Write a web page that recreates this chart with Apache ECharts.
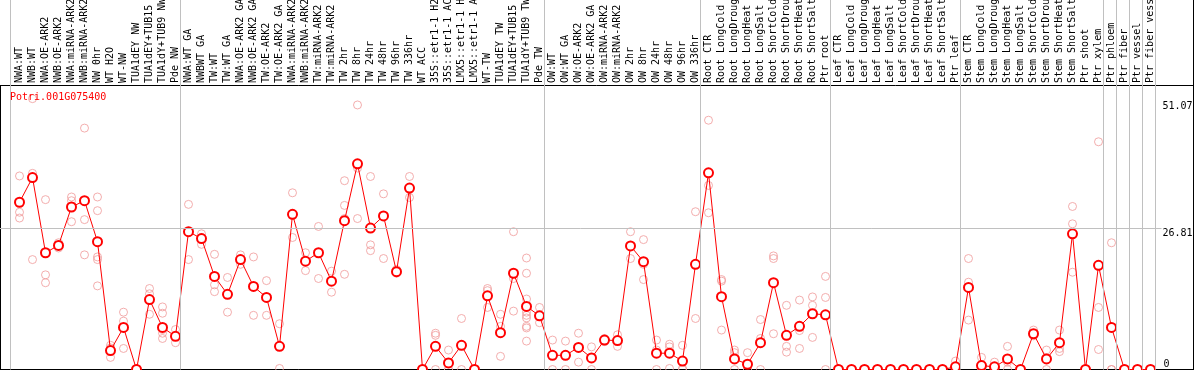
<!DOCTYPE html>
<html>
<head>
<meta charset="utf-8">
<script src="https://cdn.jsdelivr.net/npm/echarts@6/dist/echarts.min.js"></script>
<style>
html,body{margin:0;padding:0;background:#fff;}
#chart{width:1194px;height:370px;}
</style>
</head>
<body>
<div id="chart"></div>
<script>
// ---------------- data ----------------
const geneId = 'Potri.001G075400';

const categories = [
  'NWA:WT','NWB:WT','NWA:OE-ARK2','NWB:OE-ARK2','NWA:miRNA-ARK2','NWB:miRNA-ARK2','NW 0hr','WT H2O','WT-NW',
  'TUA1dEY NW','TUA1dEY+TUB15 NW','TUA1dY+TUB9 NW','Pde NW',
  'NWA:WT GA','NWBWT GA','TW:WT','TW:WT GA','NWA:OE-ARK2 GA','NWB:OE-ARK2 GA','TW:OE-ARK2','TW:OE-ARK2 GA',
  'NWA:miRNA-ARK2 GA','NWB:miRNA-ARK2 GA','TW:miRNA-ARK2','TW:miRNA-ARK2 GA',
  'TW 2hr','TW 8hr','TW 24hr','TW 48hr','TW 96hr','TW 336hr','WT ACC',
  '35S::etr1-1 H2O','35S::etr1-1 ACC','LMX5::etr1-1 H2O','LMX5::etr1-1 ACC',
  'WT-TW','TUA1dEY TW','TUA1dEY+TUB15 TW','TUA1dY+TUB9 TW','Pde TW',
  'OW:WT','OW:WT GA','OW:OE-ARK2','OW:OE-ARK2 GA','OW:miRNA-ARK2','OW:miRNA-ARK2 GA',
  'OW 2hr','OW 8hr','OW 24hr','OW 48hr','OW 96hr','OW 336hr',
  'Root CTR','Root LongCold','Root LongDrought','Root LongHeat','Root LongSalt',
  'Root ShortCold','Root ShortDrought','Root ShortHeat','Root ShortSalt','Ptr root',
  'Leaf CTR','Leaf LongCold','Leaf LongDrought','Leaf LongHeat','Leaf LongSalt',
  'Leaf ShortCold','Leaf ShortDrought','Leaf ShortHeat','Leaf ShortSalt','Ptr leaf',
  'Stem CTR','Stem LongCold','Stem LongDrought','Stem LongHeat','Stem LongSalt',
  'Stem ShortCold','Stem ShortDrought','Stem ShortHeat','Stem ShortSalt','Ptr shoot','Ptr xylem',
  'Ptr phloem','Ptr fiber','Ptr vessel','Ptr fiber vessel'
];

const meanValues = [
  31.8, 36.5, 22.2, 23.6, 30.9, 32.1, 24.3, 3.6, 8.0, 0, 13.3, 8.0, 6.3,
  26.2, 24.9, 17.7, 14.3, 20.9, 15.8, 13.7, 4.4, 29.5, 20.6, 22.2, 16.8,
  28.3, 39.1, 26.9, 29.2, 18.6, 34.5, 0, 4.4, 1.25, 4.6, 0,
  14.0, 7.0, 18.3, 12.0, 10.2,
  2.7, 2.7, 4.2, 2.2, 5.6, 5.5, 23.5, 20.5, 3.1, 3.1, 1.6, 20.0,
  37.4, 13.85, 2.0, 1.0, 5.1, 16.5, 6.5, 8.2, 10.6, 10.4,
  0, 0, 0, 0, 0, 0, 0, 0, 0, 0.5,
  15.6, 0.75, 0.5, 2.0, 0, 6.8, 2.0, 5.1, 25.8, 0, 19.8,
  8.0, 0, 0, 0
];

const replicateValues = [
  [36.8, 29.9, 28.8], [51.5, 37.3, 20.9], [32.3, 18.0, 16.5], [24.1, 23.6, 23.1],
  [32.8, 32.1, 28.1], [45.9, 28.5, 21.8], [32.8, 30.2, 21.4, 20.9, 15.9], [4.6, 4.1, 2.3],
  [10.9, 9.2, 4.0], [0, 0, 0], [15.4, 14.4, 10.5], [11.9, 10.7, 7.6, 6.9, 5.9], [7.6, 5.1],
  [31.4, 20.9], [25.8, 25.1, 23.8], [21.9, 16.1, 14.8], [17.5, 10.9], [21.8, 20.0],
  [21.4, 10.3], [16.9, 10.3], [8.7, 0.2], [33.6, 25.1], [22.2, 18.8], [27.2, 17.3],
  [18.7, 14.7], [35.9, 31.2, 28.7, 18.1], [50.3, 38.3, 28.7], [36.7, 23.7, 22.6],
  [33.4, 21.1], [19.0, 18.3], [36.7, 32.7], [0, 0], [6.9, 6.5, 0], [3.7, 0, 0],
  [9.7, 0], [0, 0], [15.4, 15.0, 11.8], [10.5, 8.2, 2.5], [26.2, 17.3, 11.1],
  [21.2, 18.3, 13.4, 10.9, 10.3, 9.8, 8.2, 7.9, 5.4], [11.8, 8.9],
  [5.6, 0], [5.4, 0], [6.9, 1.4], [4.3, 0], [5.9, 5.3], [6.6, 4.4], [26.2, 21.1],
  [24.7, 20.0, 17.1], [5.6, 3.7, 0], [4.8, 4.3, 0.2], [4.6, 0.2, 0], [30.0, 9.7],
  [47.4, 35.0, 29.8], [17.1, 16.8, 7.5], [3.7, 3.2, 0], [3.2, 0, 0], [9.5, 5.9, 0],
  [21.6, 21.1, 6.8], [12.2, 4.4, 3.3], [13.2, 7.4, 4.0], [13.8, 12.2, 6.1], [17.7, 13.7, 0],
  [0, 0, 0], [0, 0, 0], [0, 0, 0], [0, 0, 0], [0, 0, 0], [0, 0, 0], [0, 0, 0], [0, 0, 0], [0, 0, 0],
  [1.6, 0, 0],
  [21.1, 16.6, 9.4], [2.3, 0, 0], [1.4, 0, 0], [4.4, 1.4, 0], [0, 0, 0], [7.5, 6.6, 6.4],
  [3.7, 2.2, 0], [7.5, 4.0, 3.4], [31.0, 27.7, 18.5], [0, 0, 0], [43.3, 11.8, 3.8],
  [24.1, 0, 0], [0, 0, 0], [0, 0, 0], [0, 0, 0]
];

// index of the last category of each group (a separator follows it)
const groupLastIndex = [12, 40, 52, 62, 72, 83, 84, 85, 86, 87];
const yLabelValues = [0, 26.81, 51.07];
const gridLineValue = 26.81;

// ---------------- layout ----------------
const FONT = 'DejaVu Sans Mono';
const W = 1194, H = 370;
const step = 13, firstX = 19.5;          // px of category 0, px per category
const zeroY = 369.5, pxPerUnit = 141 / 26.81;
const headerY = 85;
const gridRight = 0.5;
const xMin = -firstX / step;
const xMax = (W - gridRight - firstX) / step;
const yMax = zeroY / pxPerUnit;
const sepOffset = 5 / step;
const leftSep = (10.5 - firstX) / step;
const gridLineEnd = (1161.5 - firstX) / step;

const chart = echarts.init(document.getElementById('chart'), null, {renderer: 'canvas'});

const axisFont = {fontFamily: FONT, fontSize: 10, color: '#000'};

chart.setOption({
  animation: false,
  backgroundColor: '#fff',
  title: {
    text: geneId, left: 10, top: 92, padding: 0,
    textStyle: {color: '#ff0000', fontFamily: FONT, fontSize: 10, fontWeight: 'normal'}
  },
  grid: {left: 0, right: gridRight, top: 0, bottom: H - zeroY, containLabel: false, outerBoundsMode: 'none'},
  xAxis: [
    {
      type: 'value', position: 'top', offset: -headerY, min: xMin, max: xMax,
      axisLine: {show: true, onZero: false, lineStyle: {color: '#000', width: 1}},
      axisTick: {show: false}, splitLine: {show: false},
      axisLabel: Object.assign({
        customValues: categories.map((_, i) => i),
        formatter: v => (categories[Math.round(v)] !== undefined ? categories[Math.round(v)] : ''),
        rotate: -90, margin: 2, hideOverlap: false
      }, axisFont)
    },
    {
      type: 'value', position: 'bottom', min: xMin, max: xMax,
      axisLine: {show: true, onZero: false, lineStyle: {color: '#000', width: 1}},
      axisTick: {show: false}, axisLabel: {show: false}, splitLine: {show: false}
    }
  ],
  yAxis: [
    {
      type: 'value', position: 'right', min: 0, max: yMax,
      axisLine: {show: true, onZero: false, lineStyle: {color: '#000', width: 1}},
      axisTick: {show: false}, splitLine: {show: false},
      axisLabel: Object.assign({
        inside: true, customValues: yLabelValues.filter(v => v > 0),
        formatter: v => String(v), align: 'left', verticalAlign: 'top', margin: 31
      }, axisFont)
    },
    {
      type: 'value', position: 'right', min: 0, max: yMax,
      axisLine: {show: false, onZero: false}, axisTick: {show: false}, splitLine: {show: false},
      axisLabel: Object.assign({
        inside: true, customValues: yLabelValues.filter(v => v === 0),
        formatter: v => String(v), align: 'left', verticalAlign: 'bottom', margin: 30
      }, axisFont)
    }
  ],
  graphic: [
    {type: 'line', silent: true, shape: {x1: 0.5, y1: headerY, x2: 0.5, y2: H},
     style: {stroke: '#000', lineWidth: 1}}
  ],
  series: [
    {
      name: 'replicates', type: 'scatter', xAxisIndex: 0, yAxisIndex: 0,
      symbol: 'circle', symbolSize: 8, silent: true, z: 2,
      itemStyle: {color: 'rgba(0,0,0,0)', borderColor: '#f09a9a', borderWidth: 1},
      data: replicateValues.flatMap((reps, i) => reps.map(v => [i, v])),
      markLine: {
        silent: true, symbol: ['none', 'none'], animation: false,
        label: {show: false},
        lineStyle: {color: '#c0c0c0', width: 1, type: 'solid'},
        emphasis: {disabled: true},
        data: [
          {xAxis: leftSep},
          ...groupLastIndex.map(i => ({xAxis: i + sepOffset})),
          [{coord: [xMin, gridLineValue]}, {coord: [gridLineEnd, gridLineValue]}]
        ]
      }
    },
    {
      name: 'mean', type: 'line', xAxisIndex: 0, yAxisIndex: 0,
      symbol: 'emptyCircle', symbolSize: 9, z: 3, silent: true,
      lineStyle: {color: '#ff0000', width: 1},
      itemStyle: {color: '#ff0000', borderColor: '#ff0000', borderWidth: 1.5},
      data: meanValues.map((v, i) => [i, v])
    }
  ]
});
</script>
</body>
</html>
